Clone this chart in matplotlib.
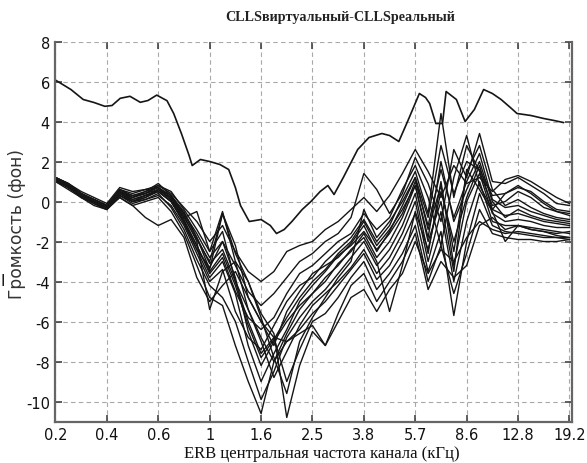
import matplotlib
matplotlib.use("Agg")
import matplotlib.pyplot as plt
import numpy as np

tick_labels = ["0.2", "0.4", "0.6", "1", "1.6", "2.5", "3.8", "5.7", "8.6", "12.8", "19.2"]
y_ticks = [-10, -8, -6, -4, -2, 0, 2, 4, 6, 8]

# positions along ERB axis (tick index units)
erb_pos = [i * 0.25 for i in range(41)]

top_x = [0.0, 0.3, 0.54, 0.75, 0.96, 1.1, 1.26, 1.45, 1.65, 1.8, 1.97, 2.17, 2.3, 2.45, 2.6, 2.66,
         2.82, 3.0, 3.2, 3.37, 3.5, 3.6, 3.77, 4.0, 4.18, 4.3, 4.45, 4.6, 4.8, 4.97, 5.15, 5.3, 5.42,
         5.6, 5.88, 6.1, 6.35, 6.5, 6.68, 6.85, 7.08, 7.2, 7.28, 7.4, 7.53, 7.6, 7.8, 7.97, 8.15,
         8.33, 8.5, 8.67, 8.85, 8.98, 9.25, 9.5, 9.7, 9.88]
top_y = [6.07, 5.6, 5.1, 4.95, 4.76, 4.8, 5.16, 5.26, 4.96, 5.05, 5.32, 5.04, 4.4, 3.4, 2.3, 1.8,
         2.1, 2.0, 1.85, 1.6, 0.7, -0.2, -1.0, -0.9, -1.2, -1.6, -1.4, -1.0, -0.4, 0.0, 0.5, 0.8, 0.35,
         1.2, 2.6, 3.2, 3.4, 3.3, 3.0, 4.0, 5.4, 5.2, 4.9, 3.9, 3.9, 5.5, 5.1, 4.0, 4.6,
         5.6, 5.4, 5.1, 4.7, 4.4, 4.3, 4.15, 4.05, 3.95]

c1 = [1.2, 0.9, 0.4, 0.1, -0.2, 0.6, 0.3, 0.4, 0.8, 0.4, -0.3, -1.0, -2.0, -1.2, -2.5, -3.5, -4.0, -3.5, -2.5, -2.2, -2.0, -1.4, -1.0, -0.4, 0.2, -0.5, 0.3, 1.4, 2.6, 1.5, 0.2, 1.8, 0.9, 1.2, 0.5, 1.1, 1.3, 1.0, 0.6, 0.2, -0.1]
c2 = [1.1, 0.8, 0.3, 0.0, -0.3, 0.4, 0.2, 0.5, 0.9, 0.3, -0.6, -1.6, -2.8, -2.0, -3.2, -4.5, -5.2, -4.6, -3.8, -3.0, -2.6, -2.0, -1.6, -0.8, 1.4, 0.6, -0.6, 0.4, 2.2, 0.9, -1.0, 2.6, 1.2, 3.4, 1.0, 0.9, 1.2, 0.8, 0.4, -0.1, -0.2]
c3 = [1.2, 0.7, 0.3, -0.1, -0.4, 0.5, 0.0, 0.2, 0.6, 0.1, -0.9, -2.2, -3.6, -2.8, -4.5, -5.8, -6.4, -5.8, -4.6, -3.6, -3.2, -2.6, -2.0, -1.6, -0.6, -1.4, -0.8, 0.6, 1.8, 0.2, -2.2, 1.2, 3.3, 0.8, -0.4, 0.4, 0.7, 0.5, 0.0, -0.4, -0.5]
c4 = [1.0, 0.8, 0.2, 0.0, -0.3, 0.3, -0.1, 0.1, 0.3, -0.2, -1.2, -2.6, -4.0, -3.4, -5.5, -6.8, -7.4, -6.2, -5.0, -4.2, -3.8, -3.0, -2.4, -1.8, -0.9, -2.0, -1.2, 0.2, 1.5, -0.6, 4.4, 0.2, 2.8, 1.5, -0.2, 0.0, 0.5, 0.2, -0.3, -0.5, -0.6]
c5 = [1.1, 0.7, 0.3, 0.1, -0.2, 0.6, 0.4, 0.6, 0.7, 0.2, -0.8, -1.9, -3.0, -0.6, -2.2, -4.8, -6.0, -7.2, -5.5, -4.5, -3.6, -3.2, -2.8, -2.1, -1.2, -2.5, -1.5, -0.2, 1.2, -1.4, 0.8, -2.5, 1.5, 2.8, 0.6, -0.2, 0.1, -0.3, -0.6, -0.8, -0.9]
c6 = [1.2, 0.8, 0.4, 0.0, -0.3, 0.5, 0.1, 0.3, 0.5, 0.0, -1.0, -2.4, -3.3, -2.0, -3.8, -6.5, -8.2, -7.0, -6.0, -5.2, -4.6, -4.0, -3.1, -2.5, -1.6, -2.8, -2.0, -0.8, 0.8, -1.8, 2.0, -1.0, 0.6, 2.0, 0.0, -0.8, -0.4, -0.7, -0.9, -1.0, -1.1]
c7 = [1.1, 0.7, 0.2, -0.1, -0.4, 0.3, 0.0, 0.1, 0.4, -0.3, -1.4, -2.9, -4.2, -4.8, -6.0, -8.0, -9.9, -8.5, -6.8, -5.8, -5.0, -4.4, -3.6, -2.8, -2.0, -3.2, -2.4, -1.2, 0.4, -2.6, 1.0, -3.2, 0.0, 1.4, -0.6, -1.0, -0.9, -1.0, -1.2, -1.3, -1.3]
c8 = [1.2, 0.9, 0.5, 0.2, -0.1, 0.7, 0.5, 0.6, 0.8, 0.5, -0.4, -1.4, -2.5, -0.5, -3.0, -5.4, -7.0, -8.8, -7.5, -6.2, -5.2, -4.6, -4.0, -3.3, -2.4, -3.6, -2.8, -1.6, 0.0, -3.0, -0.5, -4.0, -1.0, 1.0, -1.0, -1.2, -1.2, -1.4, -1.5, -1.6, -1.5]
c9 = [1.0, 0.6, 0.2, -0.2, -0.4, 0.2, -0.2, 0.0, 0.2, -0.5, -1.6, -3.2, -4.8, -5.2, -7.2, -9.0, -10.6, -8.0, -7.0, -6.4, -5.6, -5.0, -4.2, -3.4, -2.6, -3.9, -3.2, -2.0, -0.6, -3.5, -1.5, -5.7, -2.0, 0.4, -1.2, -1.5, -1.6, -1.7, -1.8, -1.8, -1.8]
c10 = [1.1, 0.8, 0.3, 0.0, -0.3, 0.4, 0.1, 0.3, 0.6, 0.1, -0.8, -0.5, -2.5, -1.5, -4.0, -6.0, -7.6, -6.8, -9.0, -7.4, -6.0, -5.6, -4.8, -3.8, -3.0, -4.4, -3.6, -2.6, -1.2, -4.0, -2.2, -4.6, -2.6, -0.4, -1.6, -1.8, -1.9, -1.9, -2.0, -2.0, -1.9]
c11 = [1.2, 0.8, 0.4, 0.1, -0.2, 0.5, 0.3, 0.5, 0.7, 0.3, -0.5, -1.8, -3.4, -0.6, -2.6, -4.0, -5.6, -6.6, -10.8, -8.2, -6.5, -7.2, -5.6, -4.2, -3.6, -5.0, -4.0, -3.0, -1.6, -4.4, -3.0, -3.8, -3.2, -1.2, -0.8, -1.4, -1.2, -1.4, -1.5, -1.7, -1.8]
c12 = [1.1, 0.7, 0.3, 0.0, -0.3, 0.2, -0.2, -0.8, -1.2, -0.9, -1.8, -3.8, -5.0, -4.2, -3.5, -4.8, -6.0, -6.8, -7.0, -6.6, -6.2, -7.2, -6.0, -4.8, -4.4, -5.5, -4.4, -3.6, -2.0, -3.6, -2.4, -3.0, -1.8, -1.0, -1.4, -1.6, -1.5, -1.6, -1.7, -1.8, -1.9]
c13 = [1.2, 0.9, 0.4, 0.1, -0.2, 0.6, 0.2, 0.4, 0.7, 0.2, -0.7, -2.0, -5.4, -3.5, -3.0, -4.0, -5.8, -7.8, -9.6, -7.0, -5.8, -4.8, -3.8, -3.0, -0.4, -1.8, -1.0, 0.0, 1.2, -0.8, 2.8, 0.4, 2.0, 1.6, 0.3, 0.4, 0.8, 0.4, -0.1, -0.5, -0.7]
c14 = [1.1, 0.8, 0.3, -0.1, -0.3, 0.4, 0.0, 0.3, 0.5, 0.0, -1.1, -2.4, -3.8, -3.0, -4.6, -7.2, -9.0, -7.6, -6.4, -5.0, -4.2, -3.5, -2.7, -2.2, -1.5, -2.4, -1.6, -0.6, 1.0, -1.2, 1.6, -0.8, 1.0, 2.4, 0.1, -0.3, -0.2, -0.5, -0.7, -0.9, -1.0]
c15 = [1.2, 0.8, 0.4, 0.0, -0.3, 0.5, 0.2, 0.4, 0.6, 0.2, -0.6, -1.8, -3.1, -2.4, -4.0, -5.4, -6.8, -8.0, -6.6, -5.4, -4.6, -3.8, -3.2, -2.4, -1.8, -3.0, -5.5, -3.2, -0.5, -2.4, 0.5, -2.0, 0.2, 1.8, -0.4, -0.7, -0.6, -0.8, -1.0, -1.1, -1.2]
c16 = [1.0, 0.7, 0.3, 0.0, -0.3, 0.3, 0.0, 0.2, 0.5, 0.0, -1.0, -2.2, -3.5, -2.6, -4.2, -6.2, -7.8, -6.9, -5.8, -4.8, -4.0, -3.4, -2.6, -2.0, -1.0, -2.2, -1.4, -0.4, 0.8, -2.0, 0.0, -3.5, 1.6, 0.6, -0.5, -2.0, -1.2, -1.3, -1.4, -1.5, -1.6]

bundle = [c1, c2, c3, c4, c5, c6, c7, c8, c9, c10, c11, c12, c13, c14, c15, c16]

fig = plt.figure(figsize=(5.87, 4.64), dpi=100)
ax = fig.add_axes([0.0945, 0.0894, 0.880, 0.819])

for c in bundle:
    ax.plot(erb_pos, c, color="#151515", lw=1.0)
ax.plot(top_x, top_y, color="#151515", lw=1.2)

ax.set_xlim(0, 10.05)
ax.set_ylim(-11, 8)
ax.set_xticks(range(len(tick_labels)))
ax.set_xticklabels(tick_labels)
ax.set_yticks(y_ticks)
ax.set_yticklabels([str(v) for v in y_ticks])
ax.grid(True, color="#a8a8a8", linestyle=(0, (4, 3)), linewidth=0.8)
ax.tick_params(direction="in", length=5, width=1.2, top=True, right=True,
               labelsize=10.5, colors="#444444", labelcolor="#111111", pad=4)
for s in ["left", "bottom", "right"]:
    ax.spines[s].set_color("#666666")
    ax.spines[s].set_linewidth(1.6)
ax.spines["top"].set_visible(False)

fig.text(340 / 587, 1 - 18 / 464, "CLLSвиртуальный-CLLSреальный", ha="center", va="center",
         fontsize=10.2, family="Liberation Serif", fontweight="bold", color="#222222")
fig.text(322 / 587, 1 - 454 / 464, "ERB центральная частота канала (кГц)", ha="center", va="center",
         fontsize=12, family="Liberation Serif", color="#111111")
fig.text(17 / 587, 1 - 224 / 464, "Громкость (фон)", ha="center", va="center", rotation=90,
         fontsize=12.3, color="#333333")
fig.text(3 / 587, 1 - 282 / 464, "I", ha="center", va="center", fontsize=11, color="#111111")

fig.savefig("out.png", dpi=100)
